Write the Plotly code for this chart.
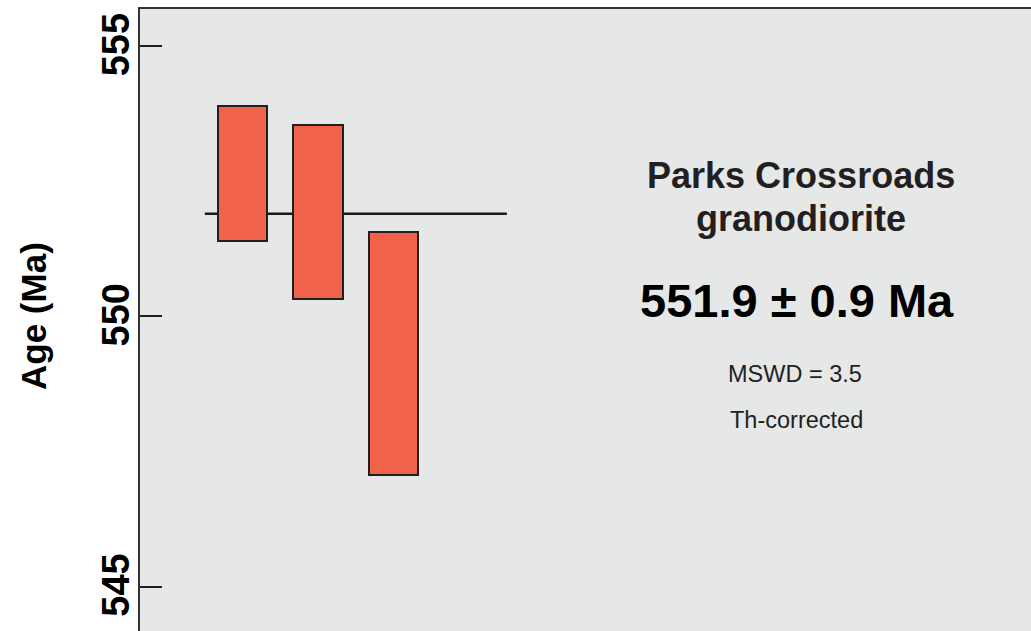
import plotly.graph_objects as go

# ---- data ----
grain_index = [1, 2, 3]
age_high = [553.89, 553.54, 551.56]   # Ma (top of error box)
age_low = [551.39, 550.32, 547.07]    # Ma (bottom of error box)
weighted_mean = 551.9
mean_err = 0.9
mswd = 3.5
mean_line_x = [0.5, 4.5]
y_ticks = [545, 550, 555]
y_range = [544.18, 555.69]
x_range = [-0.358, 11.44]

bar_heights = [h - l for h, l in zip(age_high, age_low)]

fig = go.Figure()

fig.add_trace(go.Bar(
    x=grain_index, y=bar_heights, base=age_low,
    width=0.656,
    marker=dict(color="#F0624A", line=dict(color="#231f20", width=2)),
    showlegend=False,
))

# weighted mean line, placed below the boxes
fig.add_shape(type="line", xref="x", yref="y", layer="below",
              x0=mean_line_x[0], x1=mean_line_x[1],
              y0=weighted_mean, y1=weighted_mean,
              line=dict(color="#1a1a1a", width=2.5))

text_color = "#231f20"
FONT = "Liberation Sans, Arial"
fig.add_annotation(x=0.742, y=555 - (176 - 46.5) / 54, xref="paper", yref="y",
                   text="<b>Parks Crossroads</b>", showarrow=False,
                   font=dict(family=FONT, size=36, color=text_color),
                   xanchor="center", yanchor="middle")
fig.add_annotation(x=0.742, y=555 - (219 - 46.5) / 54, xref="paper", yref="y",
                   text="<b>granodiorite</b>", showarrow=False,
                   font=dict(family=FONT, size=36, color=text_color),
                   xanchor="center", yanchor="middle")
fig.add_annotation(x=0.737, y=555 - (301 - 46.5) / 54, xref="paper", yref="y",
                   text=f"<b>{weighted_mean} ± {mean_err} Ma</b>", showarrow=False,
                   font=dict(family=FONT, size=47, color="#000000"),
                   xanchor="center", yanchor="middle")
fig.add_annotation(x=0.735, y=555 - (374 - 46.5) / 54, xref="paper", yref="y",
                   text=f"MSWD = {mswd}", showarrow=False,
                   font=dict(family=FONT, size=23.5, color=text_color),
                   xanchor="center", yanchor="middle")
fig.add_annotation(x=0.737, y=555 - (420 - 46.5) / 54, xref="paper", yref="y",
                   text="Th-corrected", showarrow=False,
                   font=dict(family=FONT, size=23.5, color=text_color),
                   xanchor="center", yanchor="middle")

# y-axis title
fig.add_annotation(x=-0.119, y=(631 - 316) / 622, xref="paper", yref="paper",
                   text="<b>Age (Ma)</b>", showarrow=False, textangle=-90,
                   font=dict(family=FONT, size=35, color="#000000"),
                   xanchor="center", yanchor="middle")

fig.update_layout(
    width=1031, height=631,
    margin=dict(l=140, r=0, t=9, b=0),
    paper_bgcolor="white",
    plot_bgcolor="#E6E7E7",
    bargap=0,
)
fig.update_xaxes(range=x_range, showgrid=False, zeroline=False,
                 showticklabels=False, ticks="", side="top",
                 showline=True, linecolor="#333333", linewidth=2)
fig.update_yaxes(range=y_range, showgrid=False, zeroline=False,
                 tickvals=y_ticks, ticktext=[str(t) for t in y_ticks],
                 ticks="inside", ticklen=22, tickwidth=2, tickcolor="#231f20",
                 tickangle=-90, ticklabelstandoff=-6, ticklabelshift=4,
                 tickfont=dict(family=FONT, size=38, color="#000000", weight="bold"),
                 showline=True, linecolor="#333333", linewidth=2)

fig.write_html("out.html")
